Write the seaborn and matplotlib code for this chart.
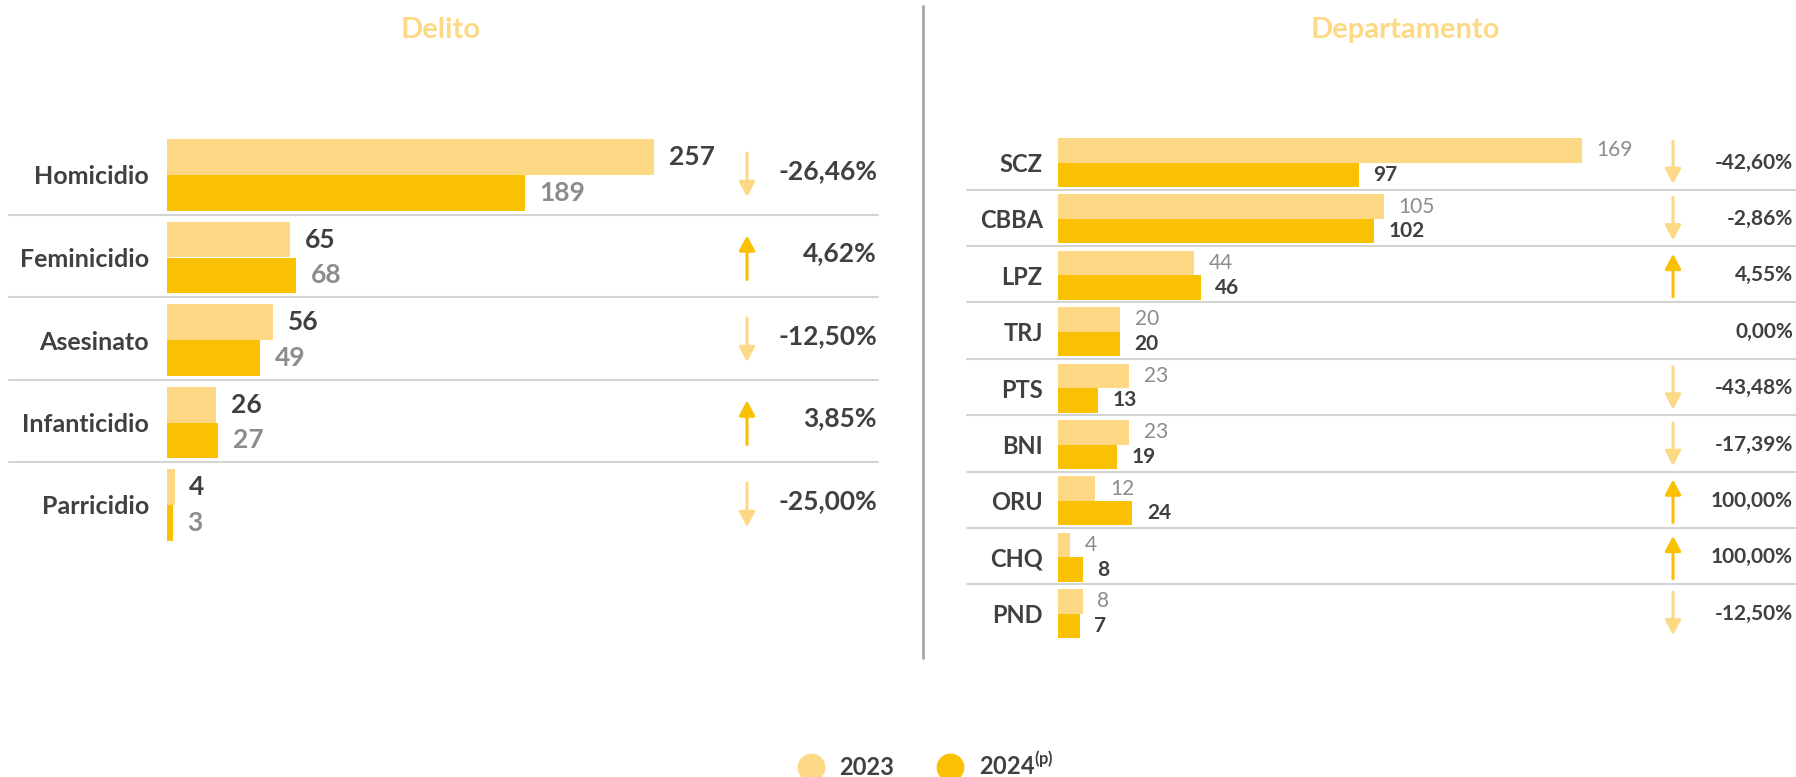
import numpy as np
import pandas as pd
import seaborn as sns
import matplotlib.pyplot as plt
from matplotlib.lines import Line2D

# data
delitos = ["Homicidio", "Feminicidio", "Asesinato", "Infanticidio", "Parricidio"]
delitos_2023 = [257, 65, 56, 26, 4]
delitos_2024 = [189, 68, 49, 27, 3]

deptos = ["SCZ", "CBBA", "LPZ", "TRJ", "PTS", "BNI", "ORU", "CHQ", "PND"]
deptos_2023 = [169, 105, 44, 20, 23, 23, 12, 4, 8]
deptos_2024 = [97, 102, 46, 20, 13, 19, 24, 8, 7]

years = ["2023", "2024"]

C23 = "#FDD985"
C24 = "#FAC002"
DARK = "#404040"
GRAY = "#8C8C8C"
LINE = "#D3D3D3"

W, H = 1796, 777


def long_df(cats, v23, v24):
    """ Builds a long dataframe for seaborn from two series. """
    return pd.DataFrame({
        "cat": cats * 2,
        "anio": ["2023"] * len(cats) + ["2024"] * len(cats),
        "valor": v23 + v24,
    })


def pct_text(a, b):
    """ Percent change formatted with a decimal comma. """
    p = 100 * (b - a) / a
    return "{:.2f}%".format(p).replace(".", ",")


def draw_panel(ax, cats, v23, v24, px_per_unit, cfg):
    df = long_df(cats, v23, v24)
    sns.barplot(data=df, y="cat", x="valor", hue="anio", hue_order=years,
                order=cats, palette=[C23, C24], width=0.87, gap=0,
                saturation=1, linewidth=0, legend=False, orient="h", ax=ax)
    n = len(cats)
    width_px = ax.get_position().width * W
    ax.set_xlim(0, width_px / px_per_unit)
    ax.set_ylim(n - 0.5, -0.5)
    ax.set_xticks([])
    ax.set_xlabel("")
    ax.set_ylabel("")
    sns.despine(ax=ax, left=True, bottom=True)
    ax.tick_params(axis="y", length=0, pad=cfg["pad"], labelsize=cfg["lab_fs"],
                   labelcolor=DARK)
    plt.setp(ax.get_yticklabels(), fontweight="bold")

    # value labels
    c23, c24 = ax.containers[0], ax.containers[1]
    ax.bar_label(c23, padding=10.5, fontsize=cfg["val_fs"], color=cfg["c23_col"],
                 fontweight=cfg["c23_w"])
    ax.bar_label(c24, padding=10.5, fontsize=cfg["val_fs"], color=cfg["c24_col"],
                 fontweight=cfg["c24_w"])

    # separators between rows
    for i in range(n - 1):
        ax.plot(cfg["sep_x"], [i + 0.48, i + 0.48], color=LINE, lw=1.5,
                transform=ax.get_yaxis_transform(), clip_on=False)

    # arrows and percent change
    for i in range(n):
        a, b = v23[i], v24[i]
        ax.text(1.0, i + cfg["pct_dy"], pct_text(a, b), ha="right", va="center",
                fontsize=cfg["pct_fs"], fontweight="bold", color=DARK,
                transform=ax.get_yaxis_transform())
        if b == a:
            continue
        half = cfg["arrow_half"]
        if b < a:
            start, end, col = i - half, i + half, C23
        else:
            start, end, col = i + half, i - half, C24
        ax.annotate("", xy=(cfg["arrow_x"], end), xytext=(cfg["arrow_x"], start),
                    xycoords=("axes fraction", "data"),
                    textcoords=("axes fraction", "data"),
                    arrowprops=dict(arrowstyle="-|>,head_length=0.6,head_width=0.32",
                                    color=col, lw=2.2, shrinkA=0, shrinkB=0,
                                    mutation_scale=15))


sns.set_style("white")
plt.rcParams["font.family"] = ["Lato", "DejaVu Sans"]

fig = plt.figure(figsize=(W / 100, H / 100), dpi=100)

# left panel: bars start at x=167px, rows centered at 175 + i*82.5 px
row_l = 82.5
top_l = 175 - row_l / 2
ax1 = fig.add_axes([167 / W, 1 - (top_l + 5 * row_l) / H, 710 / W, 5 * row_l / H])
draw_panel(ax1, delitos, delitos_2023, delitos_2024, 1.895, {
    "pad": 13, "lab_fs": 18, "val_fs": 19, "pct_fs": 19,
    "c23_col": DARK, "c23_w": "bold", "c24_col": GRAY, "c24_w": "bold",
    "sep_x": [(9 - 167) / 710, (878 - 167) / 710],
    "pct_dy": -0.05, "arrow_x": (747 - 167) / 710, "arrow_half": 0.267,
})

# right panel: bars start at x=1058px, rows centered at 162.5 + i*56.4 px
row_r = 56.4
top_r = 162.5 - row_r / 2
ax2 = fig.add_axes([1058 / W, 1 - (top_r + 9 * row_r) / H, 735 / W, 9 * row_r / H])
draw_panel(ax2, deptos, deptos_2023, deptos_2024, 3.10, {
    "pad": 11, "lab_fs": 17, "val_fs": 15, "pct_fs": 15,
    "c23_col": GRAY, "c23_w": "normal", "c24_col": DARK, "c24_w": "bold",
    "sep_x": [(967 - 1058) / 735, (1796 - 1058) / 735],
    "pct_dy": 0.0, "arrow_x": (1673 - 1058) / 735, "arrow_half": 0.38,
})

# titles
fig.text(441 / W, 1 - 30 / H, "Delito", ha="center", va="center",
         fontsize=21, fontweight="bold", color=C23)
fig.text(1405 / W, 1 - 30 / H, "Departamento", ha="center", va="center",
         fontsize=21, fontweight="bold", color=C23)

# divider
fig.add_artist(Line2D([923 / W, 923 / W], [1 - 6 / H, 1 - 658 / H],
                      color="#A6A6A6", lw=2, transform=fig.transFigure))

# legend
handles = [Line2D([], [], marker="o", ls="", markersize=19, color=C23),
           Line2D([], [], marker="o", ls="", markersize=19, color=C24)]
labels = ["2023", r"2024$^{\mathregular{(p)}}$"]
leg = fig.legend(handles, labels, loc="center", bbox_to_anchor=(925 / W, 12 / H),
                 ncol=2, frameon=False, fontsize=17, handlelength=1.2,
                 handletextpad=0.6, columnspacing=1.8)
for t in leg.get_texts():
    t.set_color(DARK)
    t.set_fontweight("bold")

fig.savefig("out.png", dpi=100)
